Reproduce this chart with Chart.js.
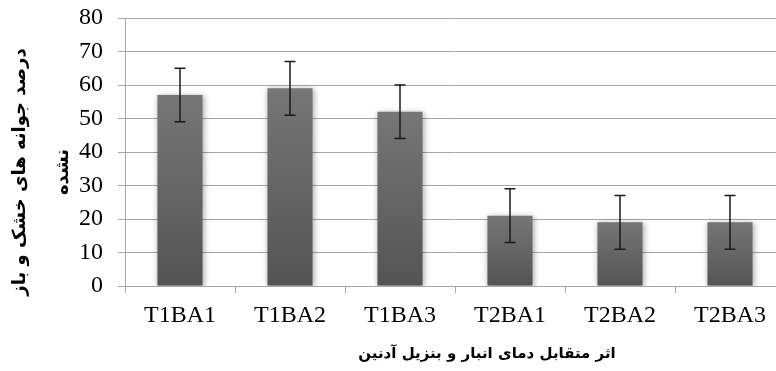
<!DOCTYPE html>
<html>
<head>
<meta charset="utf-8">
<script src="https://cdn.jsdelivr.net/npm/chart.js@4.4.0/dist/chart.umd.min.js"></script>
<style>
  html, body { margin: 0; padding: 0; background: #fff; overflow: hidden; }
  #wrap { width: 800px; height: 371px; }
</style>
</head>
<body>
<div id="wrap"><canvas id="myChart" width="800" height="371"></canvas></div>
<script>
// data
var categories = ["T1BA1", "T1BA2", "T1BA3", "T2BA1", "T2BA2", "T2BA3"];
var values = [57, 59, 52, 21, 19, 19];
var errors = [8, 8, 8, 8, 8, 8];
var yTicks = [0, 10, 20, 30, 40, 50, 60, 70, 80];
var yTitle = ["درصد جوانه های خشک و باز", "نشده"];
var xTitle = "اثر متقابل دمای انبار و بنزیل آدنین";

// soft shadow under the bars, like the office chart
var barShadow = {
    id: "barShadow",
    beforeDatasetsDraw: function (chart) {
        var ctx = chart.ctx;
        ctx.save();
        ctx.shadowColor = "rgba(0,0,0,0.35)";
        ctx.shadowBlur = 6;
        ctx.shadowOffsetX = 1;
        ctx.shadowOffsetY = 1;
    },
    afterDatasetsDraw: function (chart) {
        chart.ctx.restore();
    },
};

var errorBars = {
    id: "errorBars",
    afterDatasetsDraw: function (chart) {
        var ctx = chart.ctx;
        var y = chart.scales.y;
        var meta = chart.getDatasetMeta(0);
        ctx.save();
        ctx.strokeStyle = "#1a1a1a";
        ctx.lineWidth = 1.5;
        meta.data.forEach(function (bar, i) {
            var top = y.getPixelForValue(values[i] + errors[i]);
            var bot = y.getPixelForValue(values[i] - errors[i]);
            ctx.beginPath();
            ctx.moveTo(bar.x, top);
            ctx.lineTo(bar.x, bot);
            ctx.moveTo(bar.x - 5.5, top);
            ctx.lineTo(bar.x + 5.5, top);
            ctx.moveTo(bar.x - 5.5, bot);
            ctx.lineTo(bar.x + 5.5, bot);
            ctx.stroke();
        });
        ctx.restore();
    },
};

// axis titles placed like in the original (centred on the whole picture)
var axisTitles = {
    id: "axisTitles",
    afterDraw: function (chart) {
        var ctx = chart.ctx;
        ctx.save();
        ctx.fillStyle = "#000";
        ctx.textAlign = "center";
        ctx.textBaseline = "middle";
        ctx.font = "bold 15px 'DejaVu Sans'";
        ctx.fillText(xTitle, 487, 354);
        ctx.font = "bold 18px 'DejaVu Sans'";
        ctx.translate(20, 172);
        ctx.rotate(-Math.PI / 2);
        ctx.fillText(yTitle[0], 0, 0);
        ctx.fillText(yTitle[1], 0, 43);
        ctx.restore();
    },
};

var ctx = document.getElementById("myChart");
var myChart = new Chart(ctx, {
    type: "bar",
    data: {
        labels: categories,
        datasets: [
            {
                data: values,
                backgroundColor: function (c) {
                    var chart = c.chart;
                    if (!chart.chartArea || c.dataIndex === undefined) return "#666";
                    var y = chart.scales.y;
                    var g = chart.ctx.createLinearGradient(0, y.getPixelForValue(values[c.dataIndex]), 0, y.getPixelForValue(0));
                    g.addColorStop(0, "#767676");
                    g.addColorStop(1, "#545454");
                    return g;
                },
                borderWidth: 0,
                barPercentage: 0.82,
                categoryPercentage: 0.5,
            },
        ],
    },
    options: {
        responsive: false,
        animation: false,
        layout: { padding: { top: 18, right: 15, left: 0, bottom: 0 } },
        plugins: {
            legend: { display: false },
            tooltip: { enabled: false },
        },
        scales: {
            x: {
                grid: {
                    drawOnChartArea: false,
                    drawTicks: true,
                    tickLength: 7,
                    color: "#a6a6a6",
                },
                border: { color: "#a6a6a6" },
                ticks: {
                    color: "#000",
                    padding: 8,
                    font: { family: "'Liberation Serif'", size: 24 },
                },
                afterFit: function (scale) {
                    scale.height = 85;
                    scale.paddingLeft = 0;
                    scale.paddingRight = 0;
                },
            },
            y: {
                min: 0,
                max: 80,
                afterBuildTicks: function (scale) {
                    scale.ticks = yTicks.map(function (v) { return { value: v }; });
                },
                grid: {
                    color: "#a6a6a6",
                    lineWidth: 1,
                    tickLength: 7,
                },
                border: { color: "#a6a6a6" },
                ticks: {
                    color: "#000",
                    padding: 15,
                    font: { family: "'Liberation Serif'", size: 24 },
                },
                afterFit: function (scale) {
                    scale.width = 125;
                    scale.paddingTop = 0;
                    scale.paddingBottom = 0;
                },
            },
        },
    },
    plugins: [barShadow, errorBars, axisTitles],
});
</script>
</body>
</html>
